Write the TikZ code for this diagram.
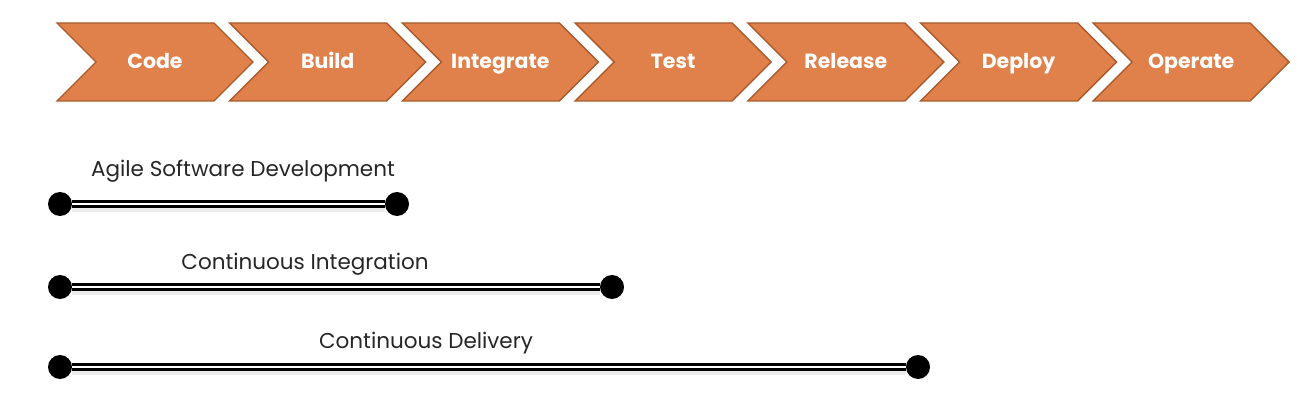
\documentclass[tikz,border=0pt]{standalone}
\usepackage{fontspec}
\setmainfont{Poppins}
\usetikzlibrary{shapes.symbols}
\definecolor{stepfill}{HTML}{E0804A}
\definecolor{stepline}{HTML}{A95B2C}
\tikzset{
  stage/.style={signal, signal to=east, signal from=west, signal pointer angle=90,
    draw=stepline, fill=stepfill, line width=1.4pt, minimum width=196pt,
    minimum height=78pt, inner sep=0pt, text height=19pt, text depth=5pt,
    text=white, font=\fontsize{20.5}{20.5}\selectfont\bfseries},
  dot/.style={circle, fill=black, minimum size=24pt, inner sep=0pt},
  span/.style={draw=black, line width=2.7pt, double=white, double distance=1.8pt},
  spanshadow/.style={draw=black!8, line width=4pt},
  caption/.style={font=\fontsize{21.5}{21.5}\selectfont, text=black!85}
}
\begin{document}
\begin{tikzpicture}[x=1pt,y=-1pt]
\useasboundingbox (0,0) rectangle (1305,411);
% top row of stages
\foreach \name [count=\i from 0] in {Code,Build,Integrate,Test,Release,Deploy,Operate}
  \node[stage] (s\i) at (155+172.7*\i,62) {\name};

% time spans
\node[dot] (a1) at (60,204) {};
\node[dot] (a2) at (397,204) {};
\node[dot] (b1) at (60,287) {};
\node[dot] (b2) at (612,287) {};
\node[dot] (c1) at (60,367) {};
\node[dot] (c2) at (918,367) {};

\path[spanshadow] ([yshift=-6pt]a1.east) -- ([yshift=-6pt]a2.west);
\path[spanshadow] ([yshift=-6pt]b1.east) -- ([yshift=-6pt]b2.west);
\path[spanshadow] ([yshift=-6pt]c1.east) -- ([yshift=-6pt]c2.west);
\path[span] (a1) -- (a2);
\path[span] (b1) -- (b2);
\path[span] (c1) -- (c2);

\node[caption] (agile) at (243,171) {Agile Software Development};
\node[caption] (ci) at (305,264) {Continuous Integration};
\node[caption] (cd) at (426,343) {Continuous Delivery};
\end{tikzpicture}
\end{document}
